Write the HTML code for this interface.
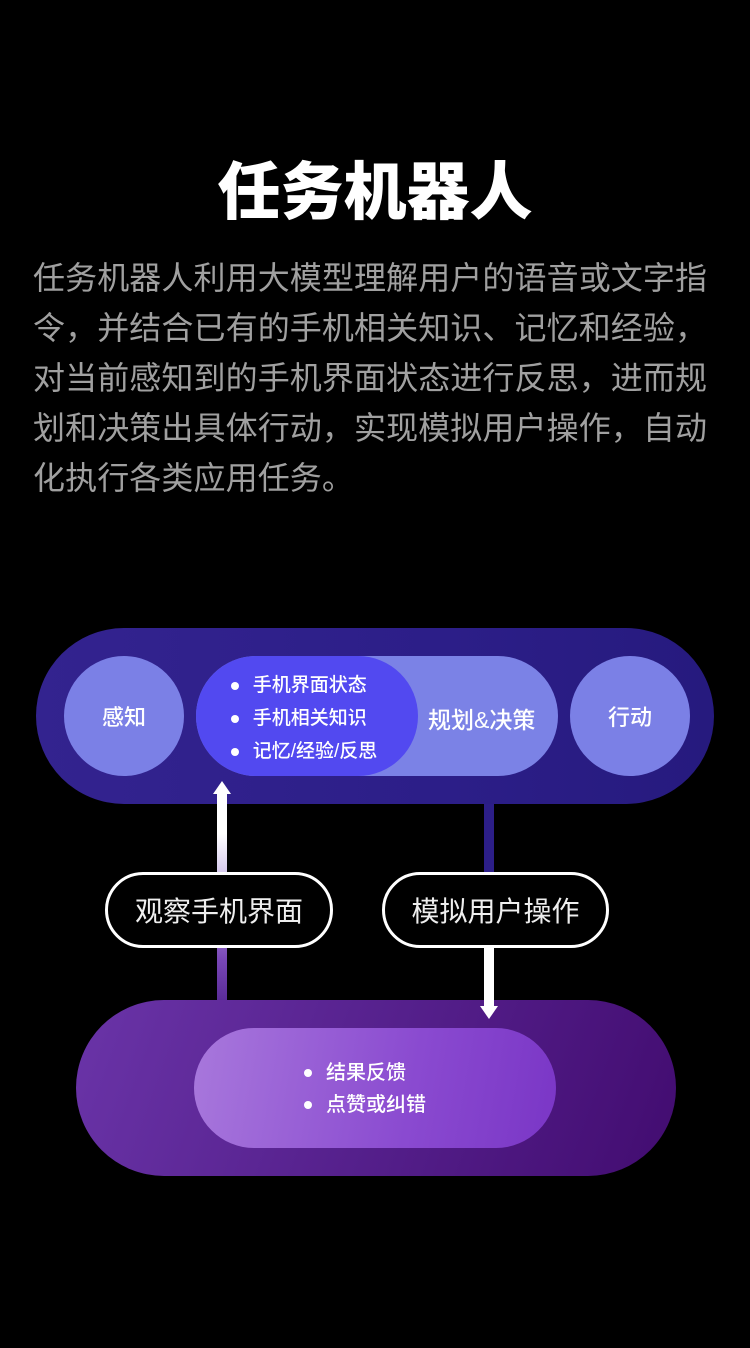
<!DOCTYPE html>
<html><head><meta charset="utf-8"><style>
*{margin:0;padding:0;box-sizing:border-box}
body{width:750px;height:1348px;background:#000;position:relative;overflow:hidden;font-family:"Liberation Sans","Noto Sans CJK SC",sans-serif;color:#fff}
.a{position:absolute}
h1{position:absolute;left:0;width:750px;top:151px;text-align:center;font-size:63px;font-weight:900;line-height:84px}
.p{left:33px;top:253px;width:690px;font-size:32px;line-height:50px;color:#a0a0a0;letter-spacing:0.1px}
.c{display:flex;align-items:center;justify-content:center}
ul{list-style:none}
li{position:relative;padding-left:22px}
li:before{content:"";position:absolute;left:0;top:50%;margin-top:-4px;width:8px;height:8px;border-radius:50%;background:#fff}
.lab{border:3px solid #fff;border-radius:40px;background:#000;font-size:28px;color:#eee}
.m{font-weight:500}
</style></head><body>
<h1>任务机器人</h1>
<div class="a p">任务机器人利用大模型理解用户的语音或文字指令，并结合已有的手机相关知识、记忆和经验，对当前感知到的手机界面状态进行反思，进而规划和决策出具体行动，实现模拟用户操作，自动化执行各类应用任务。</div>

<div class="a" style="left:36px;top:628px;width:678px;height:176px;border-radius:88px;background:linear-gradient(90deg,#33238f,#2c1e88 60%,#261a7e)"></div>
<div class="a c m" style="left:64px;top:656px;width:120px;height:120px;border-radius:50%;background:#7b80e6;font-size:22px">感知</div>
<div class="a" style="left:196px;top:656px;width:362px;height:120px;border-radius:60px;background:#7b82e6"></div>
<div class="a m" style="left:428px;top:701px;font-size:23px">规划&amp;决策</div>
<div class="a c m" style="left:196px;top:656px;width:222px;height:120px;border-radius:60px;background:#5249f0;font-size:19px">
<ul style="line-height:33px;margin-left:-6px;margin-top:5px"><li>手机界面状态</li><li>手机相关知识</li><li>记忆/经验/反思</li></ul></div>
<div class="a c m" style="left:570px;top:656px;width:120px;height:120px;border-radius:50%;background:#7b80e6;font-size:22px">行动</div>

<div class="a" style="left:76px;top:1000px;width:600px;height:176px;border-radius:88px;background:linear-gradient(110deg,#6a34a8,#55208c 50%,#420c70)"></div>
<div class="a m" style="left:194px;top:1028px;width:362px;height:120px;border-radius:60px;background:linear-gradient(100deg,#a878dc,#8a4ad0 60%,#7a36c6);font-size:20px">
<ul style="line-height:32px;position:absolute;left:110px;top:29px"><li>结果反馈</li><li>点赞或纠错</li></ul></div>

<div class="a" style="left:217px;top:792px;width:10px;height:208px;background:linear-gradient(180deg,#fff 20%,#c8b8e8 45%,#7a48b8 80%,#5a2c98)"></div>
<div class="a" style="left:213px;top:781px;width:0;height:0;border-left:9px solid transparent;border-right:9px solid transparent;border-bottom:13px solid #fff"></div>
<div class="a" style="left:484px;top:804px;width:10px;height:204px;background:linear-gradient(180deg,#2c1e88 0%,#2c1e88 35%,#fff 70%,#fff)"></div>
<div class="a" style="left:480px;top:1006px;width:0;height:0;border-left:9px solid transparent;border-right:9px solid transparent;border-top:13px solid #fff"></div>

<div class="a c lab" style="left:105px;top:872px;width:228px;height:76px">观察手机界面</div>
<div class="a c lab" style="left:382px;top:872px;width:227px;height:76px">模拟用户操作</div>
</body></html>
